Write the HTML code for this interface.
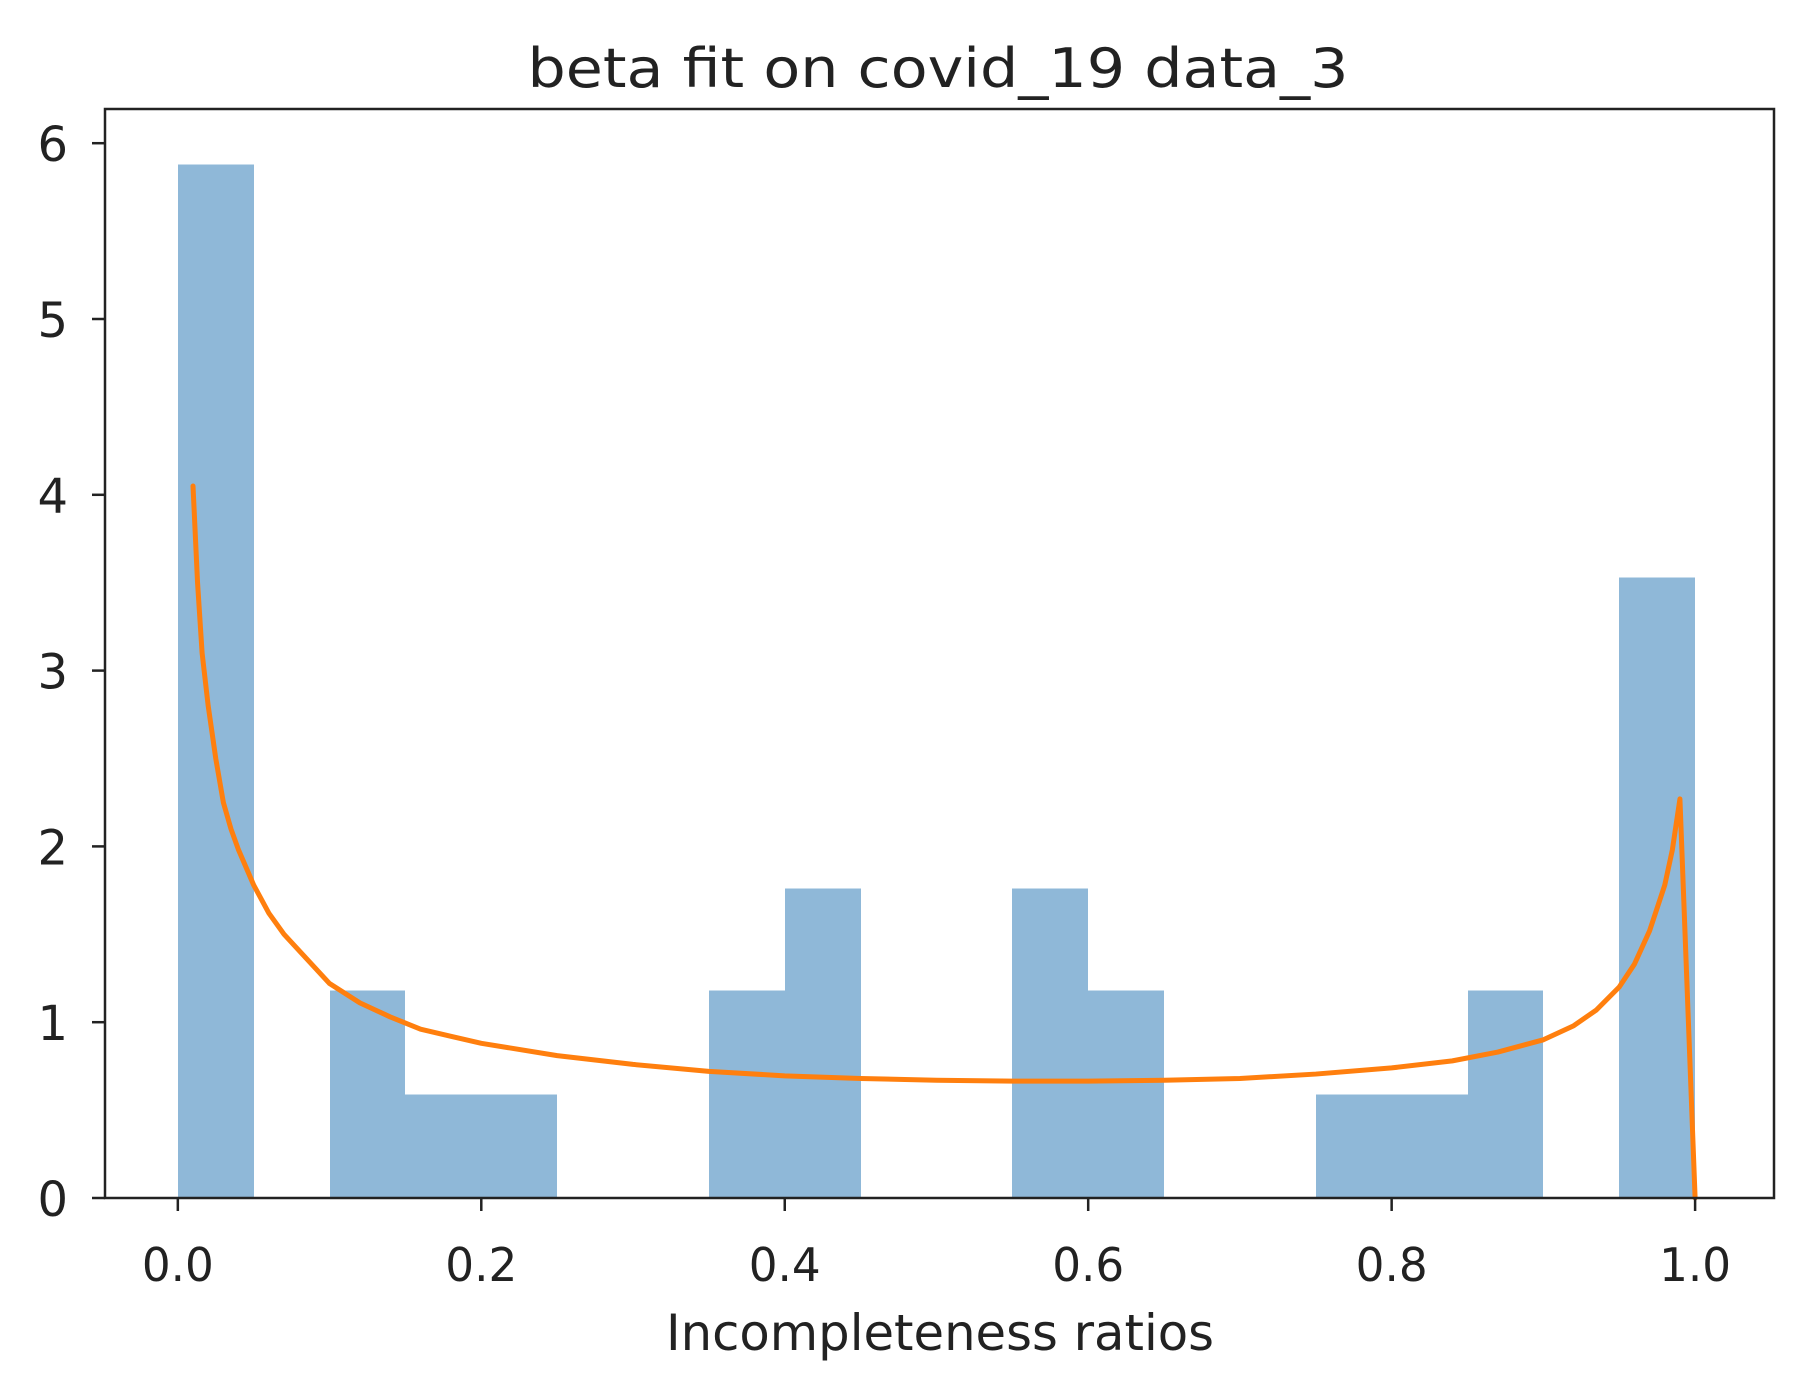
<!DOCTYPE html>
<html><head><meta charset="utf-8"><style>html,body{margin:0;padding:0;background:#fff}svg{display:block}</style></head>
<body>
<svg id="chart" width="1817" height="1375" xmlns="http://www.w3.org/2000/svg" font-family="DejaVu Sans, Liberation Sans, sans-serif" fill="#222">
<text x="938" y="87" font-size="54" text-anchor="middle" textLength="821" lengthAdjust="spacingAndGlyphs">beta fit on covid_19 data_3</text>
<g id="bars"></g>
<g id="curve"></g>
<g id="axes"></g>
<text x="940" y="1350" font-size="50" text-anchor="middle" textLength="548" lengthAdjust="spacingAndGlyphs">Incompleteness ratios</text>
</svg>
<script>
const binEdgesStart = 0, binWidth = 0.05;
const binDensity = [5.88,0,1.18,0.59,0.59,0,0,1.18,1.76,0,0,1.76,1.18,0,0,0.59,0.59,1.18,0,3.53];
const curveX = [0.01,0.013,0.016,0.02,0.025,0.03,0.035,0.04,0.05,0.06,0.07,0.085,0.1,0.12,0.14,0.16,0.18,0.2,0.25,0.3,0.35,0.4,0.45,0.5,0.55,0.6,0.65,0.7,0.75,0.8,0.84,0.87,0.9,0.92,0.935,0.95,0.96,0.97,0.98,0.985,0.99,1.0];
const curveY = [4.05,3.5,3.1,2.8,2.5,2.25,2.1,1.98,1.78,1.62,1.5,1.36,1.22,1.11,1.03,0.96,0.92,0.88,0.81,0.76,0.72,0.695,0.68,0.67,0.665,0.665,0.67,0.68,0.705,0.74,0.78,0.83,0.9,0.98,1.07,1.2,1.33,1.52,1.78,1.98,2.27,0];
const xTicks = [0,0.2,0.4,0.6,0.8,1.0];
const xTickLabels = ["0.0","0.2","0.4","0.6","0.8","1.0"];
const yTicks = [0,1,2,3,4,5,6];
const yTickLabels = ["0","1","2","3","4","5","6"];

const L=105,R=1774,T=109,B=1198, xmin=-0.048,xmax=1.052, ymin=0,ymax=(B-T)/175.8;
const sx=v=>L+(v-xmin)/(xmax-xmin)*(R-L);
const sy=v=>B-(v-ymin)/(ymax-ymin)*(B-T);
const NS="http://www.w3.org/2000/svg";
function mk(tag,attrs,parent){const e=document.createElementNS(NS,tag);for(const k in attrs)e.setAttribute(k,attrs[k]);parent.appendChild(e);return e;}
const gb=document.getElementById('bars');
binDensity.forEach((d,i)=>{ if(d<=0) return;
  const x0=sx(binEdgesStart+i*binWidth), x1=sx(binEdgesStart+(i+1)*binWidth);
  const r=mk('rect',{x:Math.round(x0),y:sy(d),width:Math.round(x1)-Math.round(x0),height:sy(0)-sy(d),fill:'#8fb8d8','shape-rendering':'crispEdges'},gb);
  
  
});
const gc=document.getElementById('curve');
const p=mk('polyline',{points:curveX.map((x,i)=>sx(x)+','+sy(curveY[i])).join(' '),fill:'none',stroke:'#ff7f0e','stroke-width':5,'stroke-linejoin':'round','stroke-linecap':'round'},gc);


const ga=document.getElementById('axes');
const fr=mk('rect',{x:L,y:T,width:R-L,height:B-T,fill:'none',stroke:'#222','stroke-width':2.5},ga);


xTicks.forEach((v,i)=>{
  const x=sx(v);
  const t=mk('line',{x1:x,x2:x,y1:B,y2:B+13,stroke:'#222','stroke-width':2.5},ga);
  
  
  const tx=mk('text',{x:x,y:1281,'font-size':46,'text-anchor':'middle',textLength:72,lengthAdjust:'spacingAndGlyphs'},ga);
  tx.textContent=xTickLabels[i];
  
  
});
yTicks.forEach((v,i)=>{
  const y=sy(v);
  const t=mk('line',{x1:L-13,x2:L,y1:y,y2:y,stroke:'#222','stroke-width':2.5},ga);
  
  
  const tx=mk('text',{x:68,y:y+18,'font-size':48,'text-anchor':'end'},ga);
  tx.textContent=yTickLabels[i];
  
  
});
</script>
</body></html>
